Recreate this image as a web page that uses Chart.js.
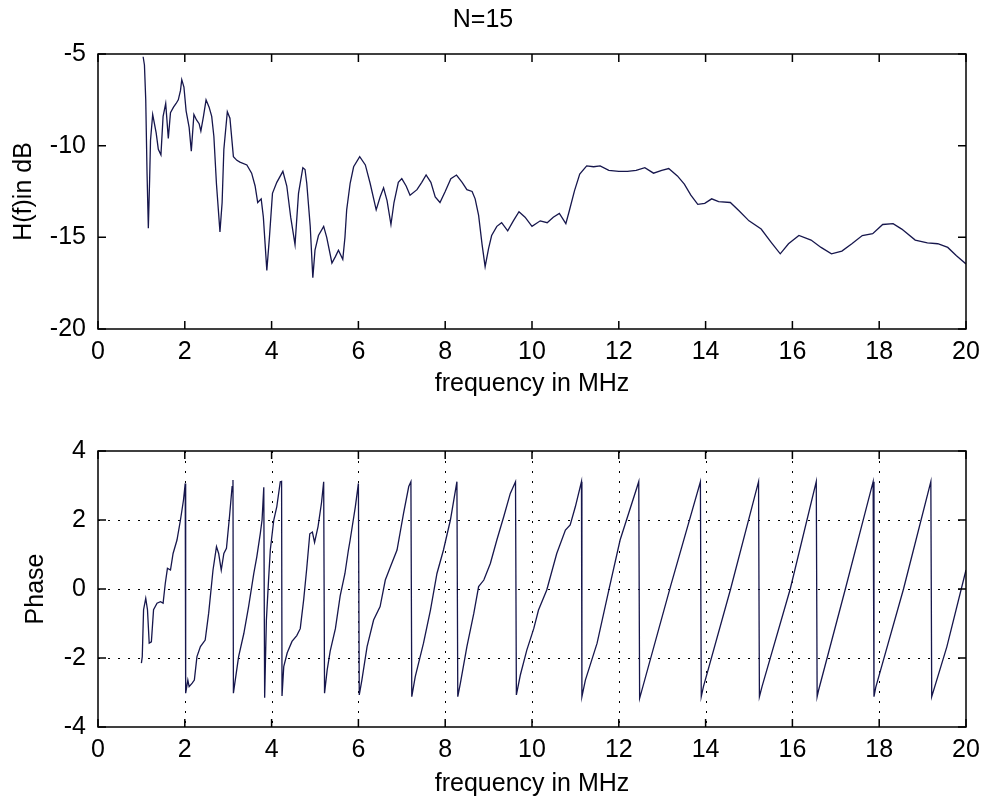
<!DOCTYPE html>
<html lang="en">
  <head>
    <meta charset="UTF-8" />
    <title>N=15</title>
    <script src="https://cdn.jsdelivr.net/npm/chart.js"></script>
    <style>
      html, body { margin: 0; padding: 0; background: #fff; }
      .painel { position: absolute; left: 0; width: 982px; height: 400px; }
      #topo { top: 0; }
      #baixo { top: 400px; }
    </style>
  </head>
  <body>
    <div id="topo" class="painel"><canvas id="grafMag" width="982" height="400"></canvas></div>
    <div id="baixo" class="painel"><canvas id="grafFase" width="982" height="400"></canvas></div>
<script>
// magnitude da resposta (dB)
const freqMag = [1.04, 1.07, 1.10, 1.13, 1.16, 1.19, 1.21, 1.26, 1.30, 1.34, 1.39, 1.45, 1.50, 1.56, 1.62, 1.67,
  1.74, 1.80, 1.85, 1.90, 1.93, 1.98, 2.03, 2.10, 2.15, 2.21, 2.27, 2.33, 2.37, 2.43, 2.49, 2.56, 2.62, 2.67,
  2.73, 2.81, 2.86, 2.90, 2.98, 3.04, 3.12, 3.20, 3.27, 3.43, 3.54, 3.62, 3.68, 3.76, 3.81, 3.89, 3.95, 4.02,
  4.12, 4.26, 4.35, 4.44, 4.54, 4.62, 4.72, 4.77, 4.81, 4.89, 4.95, 5.00, 5.08, 5.20, 5.27, 5.39, 5.47, 5.54,
  5.64, 5.69, 5.73, 5.81, 5.89, 6.03, 6.16, 6.27, 6.41, 6.50, 6.58, 6.66, 6.75, 6.82, 6.92, 7.00, 7.10, 7.19,
  7.35, 7.46, 7.56, 7.67, 7.77, 7.88, 8.00, 8.13, 8.26, 8.39, 8.50, 8.62, 8.69, 8.77, 8.85, 8.92, 9.00, 9.07,
  9.19, 9.30, 9.44, 9.57, 9.70, 9.84, 10.00, 10.19, 10.35, 10.49, 10.63, 10.78, 10.86, 10.98, 11.10, 11.26,
  11.42, 11.57, 11.77, 12.00, 12.20, 12.40, 12.60, 12.80, 12.99, 13.15, 13.35, 13.51, 13.66, 13.82, 13.98,
  14.14, 14.30, 14.57, 14.77, 15.00, 15.28, 15.52, 15.72, 15.91, 16.15, 16.43, 16.66, 16.90, 17.14, 17.37,
  17.61, 17.85, 18.08, 18.32, 18.52, 18.83, 19.11, 19.35, 19.58, 19.78, 20.00];
const magDb = [-5.15, -5.6, -7.5, -11.5, -14.5, -11.8, -9.7, -8.3, -8.8, -9.3, -10.2, -10.5, -8.4, -7.7, -9.6, -8.2,
  -7.9, -7.7, -7.5, -7.0, -6.4, -6.8, -8.1, -9.0, -10.3, -8.3, -8.6, -8.8, -9.2, -8.4, -7.5, -7.9, -8.4, -9.5,
  -12.1, -14.7, -13.1, -10.2, -8.15, -8.5, -10.6, -10.8, -10.9, -11.05, -11.5, -12.2, -13.1, -12.9, -13.9, -16.8, -15.0, -12.6,
  -12.0, -11.4, -12.2, -13.9, -15.4, -12.6, -11.2, -11.3, -12.05, -14.4, -17.2, -15.7, -14.9, -14.4, -15.0, -16.4, -16.05, -15.7,
  -16.2, -15.0, -13.5, -12.05, -11.15, -10.6, -11.05, -12.05, -13.5, -12.8, -12.3, -13.0, -14.3, -13.1, -12.0, -11.8, -12.2, -12.7,
  -12.4, -12.0, -11.6, -12.0, -12.8, -13.1, -12.5, -11.8, -11.6, -12.0, -12.4, -12.5, -12.9, -13.8, -15.4, -16.6, -15.6, -14.9,
  -14.4, -14.2, -14.65, -14.1, -13.6, -13.9, -14.4, -14.1, -14.2, -13.9, -13.7, -14.25, -13.55, -12.45, -11.55, -11.1,
  -11.15, -11.1, -11.35, -11.4, -11.4, -11.35, -11.2, -11.5, -11.35, -11.25, -11.65, -12.1, -12.7, -13.2, -13.15,
  -12.9, -13.05, -13.1, -13.55, -14.1, -14.55, -15.3, -15.9, -15.35, -14.9, -15.15, -15.55, -15.9, -15.75, -15.35,
  -14.9, -14.8, -14.3, -14.25, -14.55, -15.15, -15.3, -15.35, -15.55, -16.0, -16.45];

// fase (rad)
const freqFase = [1.00, 1.02, 1.05, 1.10, 1.14, 1.18, 1.23, 1.28, 1.36, 1.44, 1.50, 1.55, 1.60, 1.67, 1.73, 1.82,
  1.90, 1.97, 2.01, 2.02, 2.07, 2.10, 2.17, 2.22, 2.28, 2.36, 2.47, 2.55, 2.65, 2.73, 2.78, 2.84, 2.90, 2.96,
  3.03, 3.09, 3.11, 3.12, 3.24, 3.36, 3.47, 3.59, 3.66, 3.74, 3.78, 3.82, 3.84, 3.86, 3.88, 3.93, 3.97, 4.05,
  4.12, 4.20, 4.23, 4.24, 4.28, 4.36, 4.47, 4.58, 4.66, 4.74, 4.81, 4.88, 4.94, 4.99, 5.07, 5.15, 5.20, 5.22,
  5.28, 5.35, 5.47, 5.58, 5.69, 5.77, 5.81, 5.93, 6.00, 6.02, 6.08, 6.20, 6.35, 6.50, 6.62, 6.74, 6.89, 7.04,
  7.16, 7.21, 7.23, 7.31, 7.50, 7.66, 7.81, 7.96, 8.12, 8.27, 8.29, 8.35, 8.50, 8.66, 8.77, 8.89, 9.04, 9.19,
  9.35, 9.50, 9.62, 9.64, 9.73, 9.88, 10.04, 10.15, 10.34, 10.57, 10.77, 10.88, 11.00, 11.14, 11.15, 11.23,
  11.50, 11.77, 12.03, 12.46, 12.48, 13.19, 13.88, 13.90, 13.95, 14.57, 15.22, 15.24, 15.30, 15.95, 16.55,
  16.57, 16.60, 17.22, 17.86, 17.88, 17.92, 18.56, 19.19, 19.21, 19.56, 20.00];
const fase = [-2.15, -1.96, -0.6, -0.27, -0.6, -1.57, -1.53, -0.6, -0.41, -0.37, -0.41, 0.16, 0.6, 0.55, 1.03, 1.42,
  2.0, 2.58, 3.06, -3.02, -2.64, -2.83, -2.73, -2.64, -1.96, -1.67, -1.48, -0.7, 0.55, 1.23, 1.03, 0.55, 1.03, 1.18,
  2.1, 2.97, 3.16, -3.02, -1.96, -1.29, -0.51, 0.45, 0.94, 1.61, 2.0, 2.95, -3.15, -2.0, -0.9, 0.26, 1.13, 2.0,
  2.39, 3.11, 3.12, -3.1, -2.25, -1.85, -1.52, -1.35, -1.15, -0.3, 0.6, 1.6, 1.65, 1.35, 1.81, 2.5, 3.11, -3.02,
  -2.35, -1.8, -1.15, -0.2, 0.45, 1.13, 1.42, 2.39, 3.06, -3.07, -2.64, -1.67, -0.9, -0.51, 0.26, 0.65, 1.13, 2.19,
  2.97, 3.11, -3.12, -2.54, -1.57, -0.61, 0.45, 1.13, 2.0, 3.11, -3.12, -2.73, -1.67, -0.7, 0.07, 0.26, 0.74, 1.42,
  2.1, 2.77, 3.11, -3.07, -2.5, -1.77, -1.15, -0.61, -0.03, 1.03, 1.71, 1.86, 2.39, 3.11, -3.12, -2.64,
  -1.57, -0.03, 1.42, 3.11, -3.17, 0.07, 3.11, -3.12, -2.83, -0.03, 3.11, -3.12, -2.83, 0.0, 3.11,
  -3.12, -2.95, 0.0, 3.11, -3.12, -2.85, 0.0, 3.11, -3.12, -1.67, 0.55];

const ticksX = [0, 2, 4, 6, 8, 10, 12, 14, 16, 18, 20];
const ticksMag = [-20, -15, -10, -5];
const ticksFase = [-4, -2, 0, 2, 4];

const corLinha = "#16164c";
Chart.defaults.font.family = "'Liberation Sans', Arial, sans-serif";
Chart.defaults.font.size = 25;
Chart.defaults.color = "#000";

// moldura com marcas para dentro e grade pontilhada (estilo matlab)
const moldura = {
  id: "moldura",
  beforeDatasetsDraw(chart, args, opts) {
    if (!opts.grade) return;
    const { ctx, chartArea: a, scales: { x, y } } = chart;
    ctx.save();
    ctx.strokeStyle = "#000";
    ctx.lineWidth = 1;
    ctx.setLineDash([2, 8]);
    ctx.beginPath();
    x.ticks.forEach(t => {
      if (t.value <= x.min || t.value >= x.max) return;
      const px = Math.round(x.getPixelForValue(t.value)) + 0.5;
      ctx.moveTo(px, a.top); ctx.lineTo(px, a.bottom);
    });
    y.ticks.forEach(t => {
      if (t.value <= y.min || t.value >= y.max) return;
      const py = Math.round(y.getPixelForValue(t.value)) + 0.5;
      ctx.moveTo(a.left, py); ctx.lineTo(a.right, py);
    });
    ctx.stroke();
    ctx.restore();
  },
  afterDatasetsDraw(chart) {
    const { ctx, chartArea: a, scales: { x, y } } = chart;
    const tam = 8;
    ctx.save();
    ctx.strokeStyle = "#000";
    ctx.lineWidth = 1.5;
    ctx.strokeRect(a.left, a.top, a.right - a.left, a.bottom - a.top);
    ctx.beginPath();
    x.ticks.forEach(t => {
      const px = x.getPixelForValue(t.value);
      ctx.moveTo(px, a.bottom); ctx.lineTo(px, a.bottom - tam);
      ctx.moveTo(px, a.top); ctx.lineTo(px, a.top + tam);
    });
    y.ticks.forEach(t => {
      const py = y.getPixelForValue(t.value);
      ctx.moveTo(a.left, py); ctx.lineTo(a.left + tam, py);
      ctx.moveTo(a.right, py); ctx.lineTo(a.right - tam, py);
    });
    ctx.stroke();
    ctx.restore();
  }
};

function eixoX(altura, padTitulo) {
  return {
    type: "linear", min: ticksX[0], max: ticksX[ticksX.length - 1],
    afterBuildTicks: s => { s.ticks = ticksX.map(v => ({ value: v })); },
    ticks: { padding: 0, maxRotation: 0, autoSkip: false },
    grid: { display: false }, border: { display: false },
    title: { display: true, text: "frequency in MHz", padding: { top: 0, bottom: padTitulo } },
    afterFit: s => { s.height = altura; }
  };
}

function eixoY(marcas, texto, padTitulo) {
  return {
    type: "linear", min: marcas[0], max: marcas[marcas.length - 1],
    afterBuildTicks: s => { s.ticks = marcas.map(v => ({ value: v })); },
    ticks: { padding: 4 },
    grid: { display: false }, border: { display: false },
    title: { display: true, text: texto, padding: { top: padTitulo, bottom: 0 } },
    afterFit: s => { s.width = 98; }
  };
}

function serie(xs, ys) {
  return [{
    data: xs.map((f, i) => ({ x: f, y: ys[i] })),
    borderColor: corLinha, borderWidth: 1.3,
    pointRadius: 0, tension: 0, fill: false
  }];
}

new Chart(document.getElementById("grafMag"), {
  type: "line",
  data: { datasets: serie(freqMag, magDb) },
  options: {
    responsive: false, animation: false, devicePixelRatio: 1,
    layout: { padding: { top: 0, right: 16, bottom: 0, left: 0 } },
    scales: { x: eixoX(71, 1), y: eixoY(ticksMag, "H(f)in dB", 9) },
    plugins: {
      legend: { display: false }, tooltip: { enabled: false },
      title: { display: true, text: "N=15", font: { size: 25, weight: "normal" }, padding: { top: 5, bottom: 19 } },
      moldura: { grade: false }
    }
  },
  plugins: [moldura]
});

new Chart(document.getElementById("grafFase"), {
  type: "line",
  data: { datasets: serie(freqFase, fase) },
  options: {
    responsive: false, animation: false, devicePixelRatio: 1,
    layout: { padding: { top: 51, right: 16, bottom: 0, left: 0 } },
    scales: { x: eixoX(73, 1), y: eixoY(ticksFase, "Phase", 21) },
    plugins: {
      legend: { display: false }, tooltip: { enabled: false },
      moldura: { grade: true }
    }
  },
  plugins: [moldura]
});
</script>
  </body>
</html>
